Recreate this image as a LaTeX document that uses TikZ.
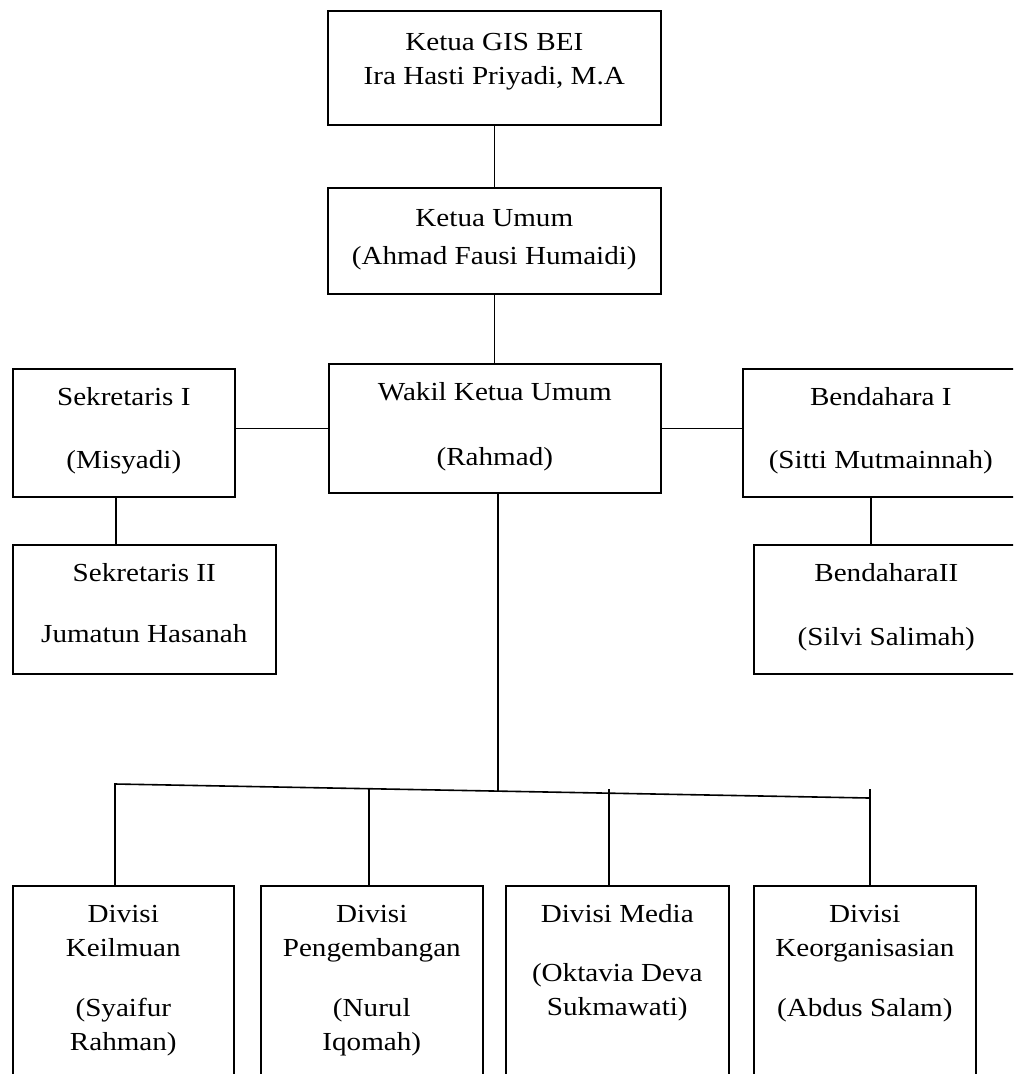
\documentclass[tikz,border=0pt]{standalone}
\usepackage{fontspec}
\setmainfont{Liberation Serif}[FakeStretch=1.12]
\usepackage{tikz}

\begin{document}
\begin{tikzpicture}[x=1pt, y=-1pt, line width=1.6pt,
    unit/.style={draw, anchor=north west, inner sep=0pt},
    txt/.style={anchor=north, align=center, inner sep=0pt, yshift=-19pt,
      font=\fontsize{26}{34}\selectfont}]

  \useasboundingbox (0,0) rectangle (1013,1074);
  \clip (0,0) rectangle (1013,1074);

  % pimpinan
  \node[unit, minimum width=333pt, minimum height=114pt,
    label={[txt, yshift=-3pt]north:{Ketua GIS BEI\\Ira Hasti Priyadi, M.A}}] (gis) at (327,10) {};
  \node[unit, minimum width=333pt, minimum height=106pt,
    label={[txt, yshift=-3pt]north:{Ketua Umum\\[4pt](Ahmad Fausi Humaidi)}}] (umum) at (327,187) {};
  \node[unit, minimum width=332pt, minimum height=129pt,
    label={[txt]north:{Wakil Ketua Umum\\[31pt](Rahmad)}}] (wakil) at (328,363) {};

  % sekretaris dan bendahara
  \node[unit, minimum width=222pt, minimum height=128pt,
    label={[txt]north:{Sekretaris I\\[29pt](Misyadi)}}] (sek1) at (12,368) {};
  \node[unit, minimum width=263pt, minimum height=129pt,
    label={[txt]north:{Sekretaris II\\[27pt]Jumatun Hasanah}}] (sek2) at (12,544) {};
  \node[unit, minimum width=276pt, minimum height=128pt,
    label={[txt]north:{Bendahara I\\[29pt](Sitti Mutmainnah)}}] (ben1) at (742,368) {};
  \node[unit, minimum width=265pt, minimum height=129pt,
    label={[txt]north:{BendaharaII\\[30pt](Silvi Salimah)}}] (ben2) at (753,544) {};

  % divisi
  \node[unit, minimum width=221pt, minimum height=200pt,
    label={[txt]north:{Divisi\\Keilmuan\\[26pt](Syaifur\\Rahman)}}] (keil) at (12,885) {};
  \node[unit, minimum width=222pt, minimum height=200pt,
    label={[txt]north:{Divisi\\Pengembangan\\[26pt](Nurul\\Iqomah)}}] (peng) at (260,885) {};
  \node[unit, minimum width=223pt, minimum height=200pt,
    label={[txt]north:{Divisi Media\\[25pt](Oktavia Deva\\Sukmawati)}}] (media) at (505,885) {};
  \node[unit, minimum width=222pt, minimum height=200pt,
    label={[txt]north:{Divisi\\Keorganisasian\\[26pt](Abdus Salam)}}] (keorg) at (753,885) {};

  % garis
  \draw (gis.south) -- (umum.north);
  \draw (umum.south) -- (umum.south |- wakil.north);
  \draw (wakil.west) -- (wakil.west -| sek1.east);
  \draw (wakil.east) -- (wakil.east -| ben1.west);
  \draw ([xshift=-8pt]sek1.south) -- ([xshift=-8pt]sek1.south |- sek2.north);
  \draw ([xshift=-10pt]ben1.south) -- ([xshift=-10pt]ben1.south |- ben2.north);

  \coordinate (barL) at (115,784);
  \coordinate (barR) at (869,798);
  \draw ([xshift=3pt]wakil.south) -- ++(0,298);
  \draw (barL |- keil.north) -- (barL) -- (barR);
  \draw ([xshift=-3pt]peng.north) -- ++(0,-96);
  \draw ([xshift=-8.5pt]media.north) -- ++(0,-96);
  \draw ([xshift=5pt]keorg.north) -- ++(0,-96);

\end{tikzpicture}
\end{document}
